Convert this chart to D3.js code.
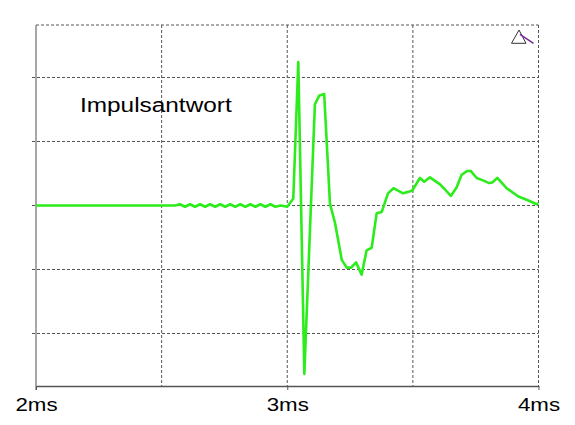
<!DOCTYPE html>
<html>
<head>
<meta charset="utf-8">
<script src="https://cdn.jsdelivr.net/npm/d3@7"></script>
<style>
  html, body { margin: 0; padding: 0; background: #fff; }
  svg { display: block; }
</style>
</head>
<body>
<svg id="chart" width="575" height="425"></svg>
<script>
// ---- data ----
const times = [2.000, 2.553,
  2.573, 2.593, 2.613, 2.633, 2.653, 2.673, 2.693, 2.713, 2.733, 2.753,
  2.773, 2.793, 2.813, 2.833, 2.853, 2.873, 2.893, 2.913, 2.933, 2.953, 2.973,
  3.000, 3.024, 3.044, 3.068, 3.110, 3.128, 3.147, 3.170, 3.190, 3.217, 3.237,
  3.254, 3.274, 3.296, 3.316, 3.336, 3.356, 3.376, 3.401, 3.423, 3.461, 3.497,
  3.528, 3.545, 3.568, 3.608, 3.628, 3.651, 3.674, 3.694, 3.717, 3.730, 3.754,
  3.774, 3.804, 3.816, 3.836, 3.873, 3.920, 3.953, 3.993, 4.000];
const amplitude = [0, 0,
  0.02, -0.02, 0.02, -0.02, 0.02, -0.02, 0.02, -0.02, 0.02, -0.02,
  0.02, -0.02, 0.02, -0.02, 0.02, -0.02, 0.02, -0.02, 0.02, -0.02, 0.0,
  -0.019, 0.11, 2.24, -2.63, 1.58, 1.72, 1.74, 0.03, -0.27, -0.85, -0.97,
  -0.97, -0.89, -1.08, -0.70, -0.66, -0.12, -0.10, 0.19, 0.27, 0.19, 0.23,
  0.43, 0.37, 0.44, 0.33, 0.25, 0.15, 0.28, 0.48, 0.54, 0.54, 0.43,
  0.40, 0.35, 0.36, 0.43, 0.27, 0.14, 0.09, 0.02, 0.03];
const xTicks = [2, 3, 4];
const xTickLabels = ["2ms", "3ms", "4ms"];
const xGrid = [2.5, 3, 3.5];
const yGrid = [-2, -1, 0, 1, 2];
const yDomain = [-2.82, 2.82];
const chartTitle = "Impulsantwort";

// ---- layout ----
const svg = d3.select("#chart");
const pL = 36, pR = 538.5, pT = 25, pB = 386;
const x = d3.scaleLinear().domain([2, 4]).range([pL, pR]);
const y = d3.scaleLinear().domain(yDomain).range([pB, pT]);

const gridColor = "#555";
const dash = "3,2";

// horizontal grid lines (with small ticks to the left)
svg.append("g").selectAll("line").data(yGrid).join("line")
  .attr("x1", pL - 4).attr("x2", pR)
  .attr("y1", d => y(d)).attr("y2", d => y(d))
  .attr("stroke", gridColor).attr("stroke-width", 1)
  .attr("stroke-dasharray", dash);

// vertical grid lines
svg.append("g").selectAll("line").data(xGrid).join("line")
  .attr("x1", d => x(d)).attr("x2", d => x(d))
  .attr("y1", pT).attr("y2", pB)
  .attr("stroke", gridColor).attr("stroke-width", 1)
  .attr("stroke-dasharray", dash);

// top and right dashed border
svg.append("line").attr("x1", pL).attr("x2", pR).attr("y1", pT).attr("y2", pT)
  .attr("stroke", gridColor).attr("stroke-width", 1).attr("stroke-dasharray", dash);
svg.append("line").attr("x1", pR).attr("x2", pR).attr("y1", pT).attr("y2", pB)
  .attr("stroke", gridColor).attr("stroke-width", 1).attr("stroke-dasharray", dash);

// left axis (solid gray)
svg.append("line").attr("x1", pL).attr("x2", pL).attr("y1", pT).attr("y2", pB + 4)
  .attr("stroke", "#8a8a8a").attr("stroke-width", 1.5);

// bottom axis
const xAxis = d3.axisBottom(x).tickValues(xTicks).tickFormat((d, i) => xTickLabels[i])
  .tickSize(4).tickSizeOuter(0);
const gx = svg.append("g").attr("transform", `translate(0,${pB})`).call(xAxis);
gx.select(".domain").attr("stroke", "#555").attr("stroke-width", 1.5);
gx.selectAll(".tick line").attr("stroke", "#555");
gx.selectAll(".tick text")
  .attr("y", 0).attr("dy", 0)
  .attr("fill", "#000")
  .style("font-family", "Liberation Sans, Arial, sans-serif")
  .style("font-size", "18px")
  .attr("transform", "translate(0,25) scale(1.24,1)");

// data line
const line = d3.line().x(d => x(d[0])).y(d => y(d[1]));
svg.append("path")
  .datum(times.map((t, i) => [t, amplitude[i]]))
  .attr("d", line)
  .attr("fill", "none")
  .attr("stroke", "#2cec1c")
  .attr("stroke-width", 2.6)
  .attr("stroke-linejoin", "round");

// title text
svg.append("text")
  .attr("transform", "translate(80,112) scale(1.25,1)")
  .style("font-family", "Liberation Sans, Arial, sans-serif")
  .style("font-size", "19.5px")
  .attr("fill", "#000")
  .text(chartTitle);

// small triangle marker icon at top right
svg.append("path")
  .attr("d", "M519,30 L511.5,43.3 L526,43.3 Z")
  .attr("fill", "none").attr("stroke", "#333").attr("stroke-width", 1);
svg.append("line")
  .attr("x1", 520).attr("y1", 34.3).attr("x2", 533.5).attr("y2", 43.3)
  .attr("stroke", "#7a2a9a").attr("stroke-width", 1.6);
</script>
</body>
</html>
